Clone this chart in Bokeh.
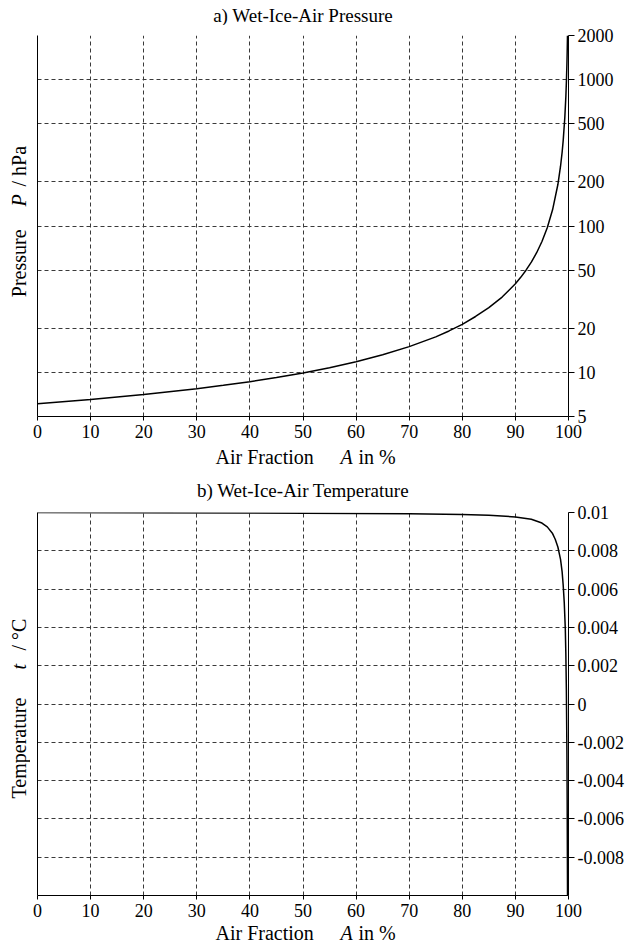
from bokeh.plotting import figure
from bokeh.layouts import column, row
from bokeh.models import Range1d, FixedTicker, LogAxis, LinearAxis, Label
from bokeh.embed import file_html
from bokeh.resources import INLINE

# ---------------- data ----------------
air_fraction_p = [0, 10, 20, 30, 35, 40, 45, 50, 55, 60, 65, 70, 75, 77.5, 80, 82.5, 85, 87.5, 90, 91,
                  92, 93, 94, 95, 96, 97, 98, 98.5, 98.8, 99, 99.3, 99.5, 99.6, 99.7, 99.75, 99.8, 99.81]
pressure_hpa = [6.12, 6.54, 7.07, 7.75, 8.17, 8.65, 9.23, 9.92, 10.77, 11.83, 13.2, 15.0, 17.5, 19.2, 21.3,
                24.1, 27.7, 32.7, 40.3, 44.6, 49.9, 56.6, 65.7, 78.4, 97.4, 129, 192, 256, 319, 383,
                546, 763, 954, 1270, 1524, 1905, 2000]

air_fraction_t = [0, 20, 40, 60, 70, 80, 85, 90, 93, 95, 96, 97, 97.5, 98, 98.5, 98.8, 99,
                  99.2, 99.4, 99.5, 99.6, 99.7, 99.75, 99.8, 99.82]
temperature_c = [0.0100, 0.00999, 0.00997, 0.00995, 0.00993, 0.00989, 0.00985, 0.00977, 0.00965,
                 0.00945, 0.00925, 0.00890, 0.00860, 0.00820, 0.00755, 0.00690, 0.00620, 0.00530,
                 0.00390, 0.00260, 0.00070, -0.00250, -0.00500, -0.00880, -0.01000]

x_ticks = [0, 10, 20, 30, 40, 50, 60, 70, 80, 90, 100]
p_ticks = [5, 10, 20, 50, 100, 200, 500, 1000, 2000]
p_tick_labels = ["5", "10", "20", "50", "100", "200", "500", "1000", "2000"]
t_ticks = [-0.008, -0.006, -0.004, -0.002, 0.0, 0.002, 0.004, 0.006, 0.008, 0.01]
t_tick_labels = ["-0.008", "-0.006", "-0.004", "-0.002", "0", "0.002", "0.004", "0.006", "0.008", "0.01"]

title_a = "a) Wet-Ice-Air Pressure"
title_b = "b) Wet-Ice-Air Temperature"

FONT = "Liberation Serif"
GRID_COLOR = "#3a3a3a"
W = 628
LEFT_STRIP = 30
FRAME_CX = 302.6  # horizontal centre of the plot frames, canvas px


def style(p, yticks, ylabels, log=False):
    p.outline_line_color = None
    p.background_fill_color = "white"
    p.border_fill_color = "white"
    p.xgrid.ticker = FixedTicker(ticks=x_ticks)
    p.ygrid.ticker = FixedTicker(ticks=yticks)
    for g in (p.xgrid, p.ygrid):
        g.grid_line_color = GRID_COLOR
        g.grid_line_dash = "4 3"
        g.grid_line_width = 1
    xa = p.xaxis[0]
    xa.ticker = FixedTicker(ticks=x_ticks)
    xa.major_tick_out = 4
    xa.major_tick_in = 0
    xa.minor_tick_line_color = None
    xa.major_label_standoff = 4
    xa.major_label_text_font = FONT
    xa.major_label_text_font_size = "18px"
    xa.major_label_text_color = "black"
    xa.axis_line_color = "black"
    xa.major_tick_line_color = "black"
    ya = p.yaxis[0]
    ya.ticker = FixedTicker(ticks=yticks)
    ya.major_label_overrides = {float(v): s for v, s in zip(yticks, ylabels)}
    ya.major_tick_out = 6
    ya.major_tick_in = 0
    ya.minor_tick_line_color = None
    ya.major_label_standoff = 3
    ya.major_label_text_font = FONT
    ya.major_label_text_font_size = "18px"
    ya.major_label_text_color = "black"
    ya.axis_line_color = "black"
    ya.major_tick_line_color = "black"
    la = LogAxis() if log else LinearAxis()
    la.ticker = FixedTicker(ticks=[])
    la.minor_tick_line_color = None
    la.major_tick_line_color = None
    la.axis_line_color = "black"
    p.add_layout(la, "left")


def strip(w, h):
    s = figure(width=w, height=h, output_backend="svg", toolbar_location=None,
               x_axis_location=None, y_axis_location=None,
               x_range=Range1d(0, 1), y_range=Range1d(0, 1),
               min_border=0, min_border_left=0, min_border_right=0,
               min_border_top=0, min_border_bottom=0)
    s.outline_line_color = None
    s.grid.visible = False
    s.background_fill_color = "white"
    s.border_fill_color = "white"
    return s


def lab(p, text, x, y, size="20px", style_="normal", align="left", angle=0.0):
    p.add_layout(Label(x=x, y=y, x_units="screen", y_units="screen", text=text,
                       text_font=FONT, text_font_size=size, text_font_style=style_,
                       text_align=align, text_baseline="alphabetic", text_color="black",
                       angle=angle))


ROT = 1.5707963

# ---- title a strip (canvas y 0..25) ----
t1 = strip(W, 25)
lab(t1, title_a, FRAME_CX, 10.5, size="19px", align="center")

# ---- panel a (canvas y 25..445) ----
p1 = figure(width=W - LEFT_STRIP, height=420, output_backend="svg", toolbar_location=None,
            x_range=Range1d(0, 100), y_range=Range1d(5, 2000), y_axis_type="log",
            y_axis_location="right", min_border_left=7, min_border_right=60,
            min_border_top=10, min_border_bottom=29)
style(p1, p_ticks, p_tick_labels, log=True)
p1.line(air_fraction_p, pressure_hpa, line_color="black", line_width=1.5)

# the strip frame is aligned with the plot frame (35..416)
l1 = strip(LEFT_STRIP, 420)
lab(l1, "Pressure", 18, 119.3, angle=ROT)
lab(l1, "P", 18, 210, style_="italic", angle=ROT)
lab(l1, "/ hPa", 18, 230, angle=ROT)

# ---- middle strip (canvas y 445..501): x label a + title b ----
mid = strip(W, 56)
lab(mid, "Air Fraction", 215, 44.5)
lab(mid, "A", 340, 44.5, style_="italic")
lab(mid, "in %", 358, 44.5)
lab(mid, title_b, FRAME_CX, 11, size="19px", align="center")

# ---- panel b (canvas y 501..923) ----
p2 = figure(width=W - LEFT_STRIP, height=422, output_backend="svg", toolbar_location=None,
            x_range=Range1d(0, 100), y_range=Range1d(-0.01, 0.01),
            y_axis_location="right", min_border_left=7, min_border_right=60,
            min_border_top=11, min_border_bottom=28)
style(p2, t_ticks, t_tick_labels)
p2.line(air_fraction_t, temperature_c, line_color="black", line_width=1.5)

l2 = strip(LEFT_STRIP, 422)
lab(l2, "Temperature", 18, 97, angle=ROT)
lab(l2, "t", 18, 226, style_="italic", angle=ROT)
lab(l2, "/ °C", 18, 245, angle=ROT)

# ---- bottom strip (canvas y 923..943): x label b ----
bot = strip(W, 20)
lab(bot, "Air Fraction", 215, 11)
lab(bot, "A", 340, 11, style_="italic")
lab(bot, "in %", 358, 11)

layout = column(t1, row(l1, p1, spacing=0), mid, row(l2, p2, spacing=0), bot, spacing=0)
open("out.html", "w").write(file_html(layout, INLINE))
